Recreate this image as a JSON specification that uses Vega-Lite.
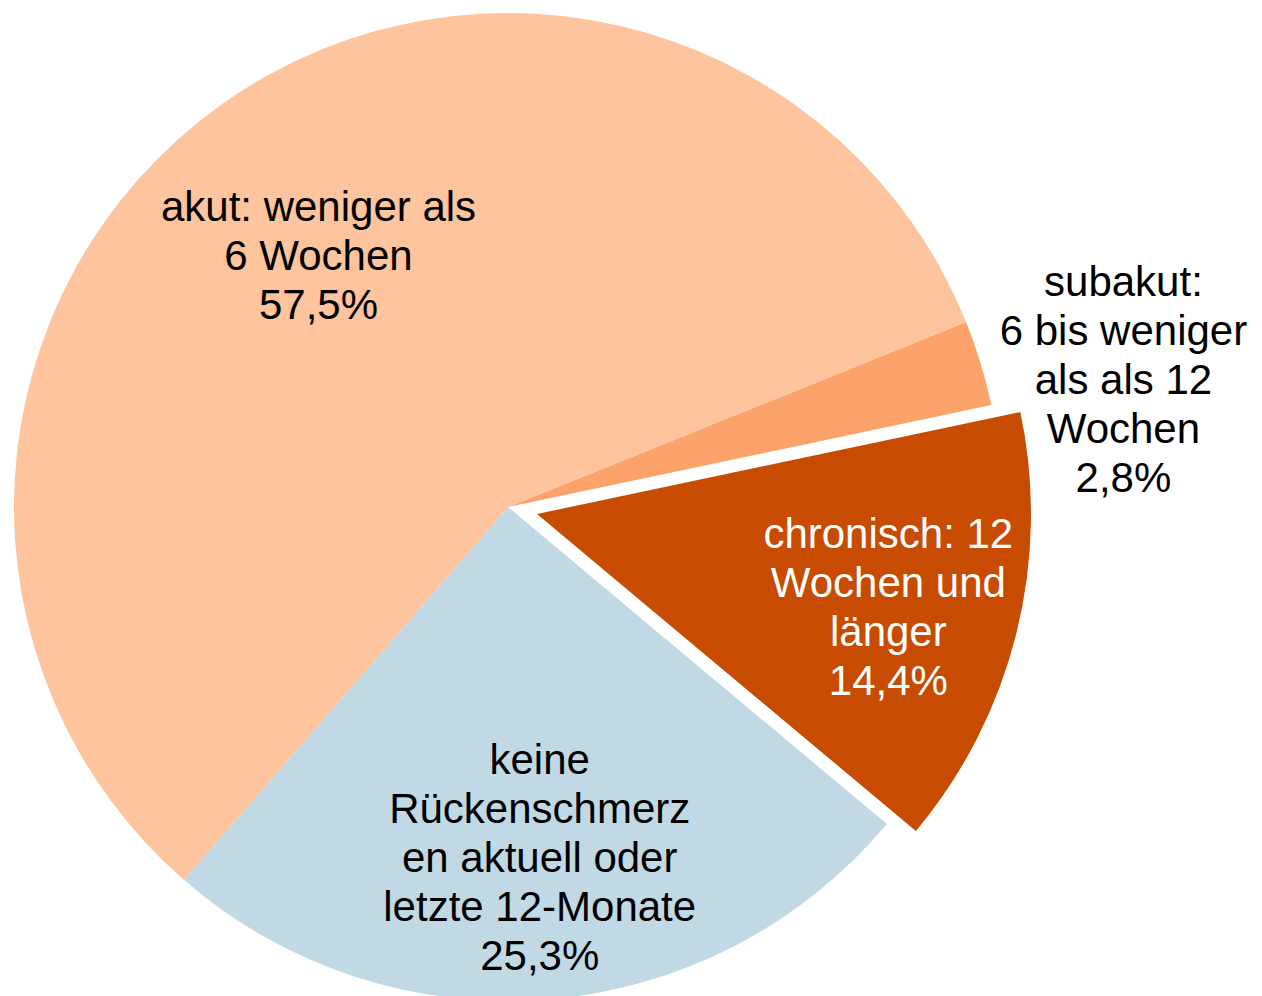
{
  "$schema": "https://vega.github.io/schema/vega-lite/v6.json",
  "width": 1016,
  "height": 1014,
  "padding": {"left": 0, "top": 0, "right": 246, "bottom": 0},
  "autosize": {"type": "none"},
  "background": "white",
  "config": {"view": {"stroke": null}},
  "data": {
    "values": [
      {"Kategorie": "subakut", "Rang": 1, "Anteil": 2.8, "Beschriftung": "subakut:\n6 bis weniger\nals als 12\nWochen\n2,8%"},
      {"Kategorie": "chronisch", "Rang": 2, "Anteil": 14.4, "Beschriftung": "chronisch: 12\nWochen und\nlänger\n14,4%"},
      {"Kategorie": "keine", "Rang": 3, "Anteil": 25.3, "Beschriftung": "keine\nRückenschmerz\nen aktuell oder\nletzte 12-Monate\n25,3%"},
      {"Kategorie": "akut", "Rang": 4, "Anteil": 57.5, "Beschriftung": "akut: weniger als\n6 Wochen\n57,5%"}
    ]
  },
  "encoding": {
    "theta": {"field": "Anteil", "type": "quantitative", "stack": true, "scale": {"range": [1.18682, 7.47001]}},
    "order": {"field": "Rang", "type": "quantitative"}
  },
  "layer": [
    {
      "mark": {"type": "arc", "outerRadius": 494, "strokeWidth": 0},
      "encoding": {
        "color": {"field": "Kategorie", "type": "nominal", "legend": null,
          "scale": {"domain": ["subakut", "chronisch", "keine", "akut"], "range": ["#FCA36C", "#C74B00", "#C0D9E5", "#FDC49D"]}},
        "opacity": {"condition": {"test": "datum.Kategorie === 'chronisch'", "value": 0}, "value": 1}
      }
    },
    {
      "mark": {"type": "arc", "outerRadius": 494, "strokeWidth": 0, "xOffset": 29, "yOffset": 7},
      "encoding": {
        "color": {"field": "Kategorie", "type": "nominal", "legend": null},
        "opacity": {"condition": {"test": "datum.Kategorie === 'chronisch'", "value": 1}, "value": 0}
      }
    },
    {
      "mark": {"type": "text", "radius": 316, "dx": -6, "dy": -42, "font": "Liberation Sans", "fontSize": 42, "lineHeight": 49, "lineBreak": "\n", "align": "center", "baseline": "middle", "fill": "black"},
      "encoding": {
        "text": {"condition": {"test": "datum.Kategorie === 'akut'", "field": "Beschriftung"}, "value": ""}
      }
    },
    {
      "mark": {"type": "text", "radius": 634, "dx": 9, "dy": -39, "font": "Liberation Sans", "fontSize": 42, "lineHeight": 49, "lineBreak": "\n", "align": "center", "baseline": "middle", "fill": "black"},
      "encoding": {
        "text": {"condition": {"test": "datum.Kategorie === 'subakut'", "field": "Beschriftung"}, "value": ""}
      }
    },
    {
      "mark": {"type": "text", "radius": 393, "dx": -1, "dy": -67, "font": "Liberation Sans", "fontSize": 42, "lineHeight": 49, "lineBreak": "\n", "align": "center", "baseline": "middle", "fill": "white"},
      "encoding": {
        "text": {"condition": {"test": "datum.Kategorie === 'chronisch'", "field": "Beschriftung"}, "value": ""}
      }
    },
    {
      "mark": {"type": "text", "radius": 350, "dx": 4, "dy": -95, "font": "Liberation Sans", "fontSize": 42, "lineHeight": 49, "lineBreak": "\n", "align": "center", "baseline": "middle", "fill": "black"},
      "encoding": {
        "text": {"condition": {"test": "datum.Kategorie === 'keine'", "field": "Beschriftung"}, "value": ""}
      }
    }
  ]
}
